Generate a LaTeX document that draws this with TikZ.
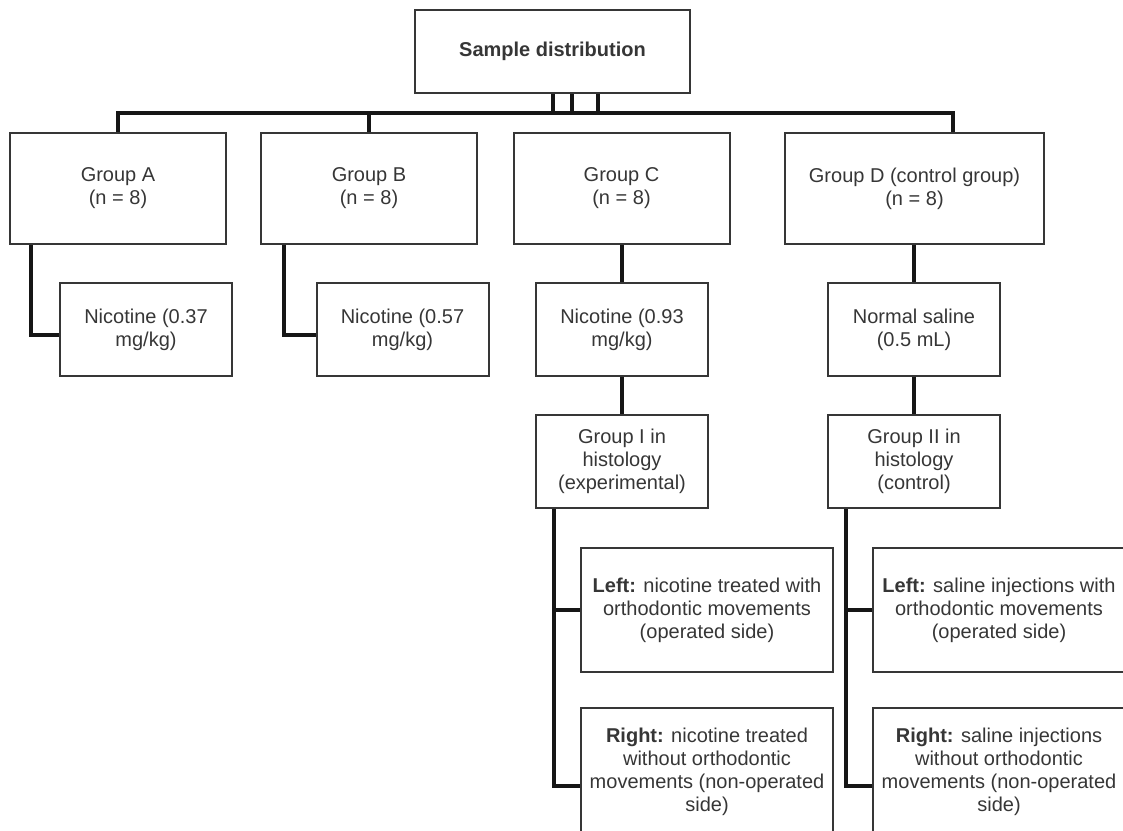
\documentclass[tikz,border=0pt]{standalone}
\usepackage{fontspec}
\setmainfont{Liberation Sans}
\usetikzlibrary{positioning}
\definecolor{boxgray}{HTML}{363636}
\definecolor{linegray}{HTML}{161616}

\begin{document}
\begin{tikzpicture}[x=0.5pt, y=-0.5pt,
                    block/.style={rectangle, draw=boxgray, line width=1pt, text=boxgray, align=center, inner sep=2pt,
                                  font=\fontsize{10}{11.5}\selectfont},
                    grpbox/.style={block, minimum width=108pt, minimum height=55.5pt},
                    dosebox/.style={block, minimum width=86pt, minimum height=46.5pt},
                    sidebox/.style={block, minimum width=126pt, minimum height=62pt},
                    link/.style={draw=linegray, line width=1.7pt}]
  \useasboundingbox (0,0) rectangle (1123,830);
  \node[block, minimum width=137.5pt, minimum height=41.5pt, font=\fontsize{10}{11.5}\selectfont\bfseries] (sample) at (552.5,51.5) {Sample distribution};

  \node[grpbox] (grpA) at (118,188.5) {Group A\\(n = 8)};
  \node[grpbox] (grpB) at (369,188.5) {Group B\\(n = 8)};
  \node[grpbox] (grpC) at (621.5,188.5) {Group C\\(n = 8)};
  \node[grpbox, minimum width=129.5pt] (grpD) at (914.5,188.5) {Group D (control group)\\(n = 8)};

  \node[dosebox] (nicA) at (146,329.5) {Nicotine (0.37\\mg/kg)};
  \node[dosebox] (nicB) at (402.5,329.5) {Nicotine (0.57\\mg/kg)};
  \node[dosebox] (nicC) at (622,329.5) {Nicotine (0.93\\mg/kg)};
  \node[dosebox] (salD) at (914,329.5) {Normal saline\\(0.5 mL)};

  \node[dosebox] (histC) at (622,461.5) {Group I in\\histology\\(experimental)};
  \node[dosebox] (histD) at (914,461.5) {Group II in\\histology\\(control)};

  \node[sidebox] (leftC) at (707,610) {\textbf{Left:} nicotine treated with\\orthodontic movements\\(operated side)};
  \node[sidebox, minimum height=64pt] (rightC) at (707,772) {\textbf{Right:} nicotine treated\\without orthodontic\\movements (non-operated\\side)};
  \node[sidebox] (leftD) at (999,610) {\textbf{Left:} saline injections with\\orthodontic movements\\(operated side)};
  \node[sidebox, minimum height=64pt] (rightD) at (999,772) {\textbf{Right:} saline injections\\without orthodontic\\movements (non-operated\\side)};

  \coordinate (busL) at (118,113);
  \coordinate (busR) at (953,113);
  \draw[link] (grpA.north) -- (busL) -- (busR) -- (busR |- grpD.north);
  \draw[link] (grpB.north) -- (grpB.north |- busL);
  \foreach \x [count=\i] in {553,572,598} {
    \coordinate (tap\i) at (\x,113);
    \draw[link] (tap\i) -- (tap\i |- sample.south);
  }

  \coordinate (stemA) at (31,335);
  \coordinate (stemB) at (284,335);
  \draw[link] (stemA |- grpA.south) -- (stemA) -- (stemA -| nicA.west);
  \draw[link] (stemB |- grpB.south) -- (stemB) -- (stemB -| nicB.west);
  \draw[link] (nicC.north) -- (nicC.north |- grpC.south);
  \draw[link] (nicC.south) -- (histC.north);
  \draw[link] (salD.north) -- (salD.north |- grpD.south);
  \draw[link] (salD.south) -- (histD.north);

  \coordinate (stemC) at (554,786);
  \coordinate (stemD) at (846,786);
  \draw[link] (stemC |- histC.south) -- (stemC) -- (stemC -| rightC.west);
  \draw[link] (stemC |- leftC.west) -- (leftC.west);
  \draw[link] (stemD |- histD.south) -- (stemD) -- (stemD -| rightD.west);
  \draw[link] (stemD |- leftD.west) -- (leftD.west);
\end{tikzpicture}
\end{document}
